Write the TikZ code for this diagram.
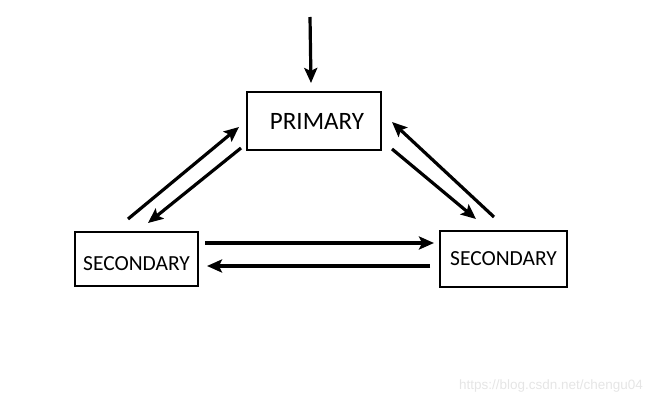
\documentclass[tikz,border=0pt]{standalone}
\usepackage{fontspec}
\setmainfont{Carlito}
\newfontfamily\markfont{Liberation Sans}
\usepackage{tikz}
\usetikzlibrary{arrows.meta,positioning}

\begin{document}
\begin{tikzpicture}[x=1pt,y=1pt,>={Stealth[length=15pt,width=13pt,inset=3pt]},
        arr/.style={->,line width=3.2pt},
        box/.style={draw,line width=2pt,inner sep=0pt}]

  \useasboundingbox (0,0) rectangle (668,-406);

  \node[box,minimum width=134pt,minimum height=58pt,font=\fontsize{25}{28}\selectfont] (primary) at (314,-121) {\hspace{6pt}PRIMARY};
  \node[box,minimum width=123pt,minimum height=54pt,font=\fontsize{21.5}{24}\selectfont] (sec_l) at (136.5,-259) {\raisebox{-11pt}[0pt][0pt]{SECONDARY}};
  \node[box,minimum width=127pt,minimum height=56pt,font=\fontsize{21.5}{24}\selectfont] (sec_r) at (503.5,-259) {SECONDARY};
  \coordinate (entry) at (310,-17);

  % primary <-> left
  \draw[arr] ([shift={(-8.5,12)}]sec_l.north) -- ([shift={(-7,-6)}]primary.west);
  \draw[arr] ([shift={(-5,3)}]primary.south west) -- ([shift={(11.5,8)}]sec_l.north);
  % primary <-> right
  \draw[arr] ([shift={(10,2)}]primary.south east) -- ([shift={(-27.5,11)}]sec_r.north);
  \draw[arr] ([shift={(-9.5,13)}]sec_r.north) -- ([shift={(10,-1)}]primary.east);
  % left <-> right
  \draw[arr] ([shift={(6,16)}]sec_l.east) -- ([shift={(-5,16)}]sec_r.west);
  \draw[arr] ([shift={(-9,-7)}]sec_r.west) -- ([shift={(8,-7)}]sec_l.east);
  % input
  \draw[arr] (entry) -- ([shift={(-3,8)}]primary.north);

  \node[text=black!10,font=\markfont\fontsize{13.5}{15}\selectfont] (mark) at (551,-386) {https://blog.csdn.net/chengu04};

\end{tikzpicture}
\end{document}
